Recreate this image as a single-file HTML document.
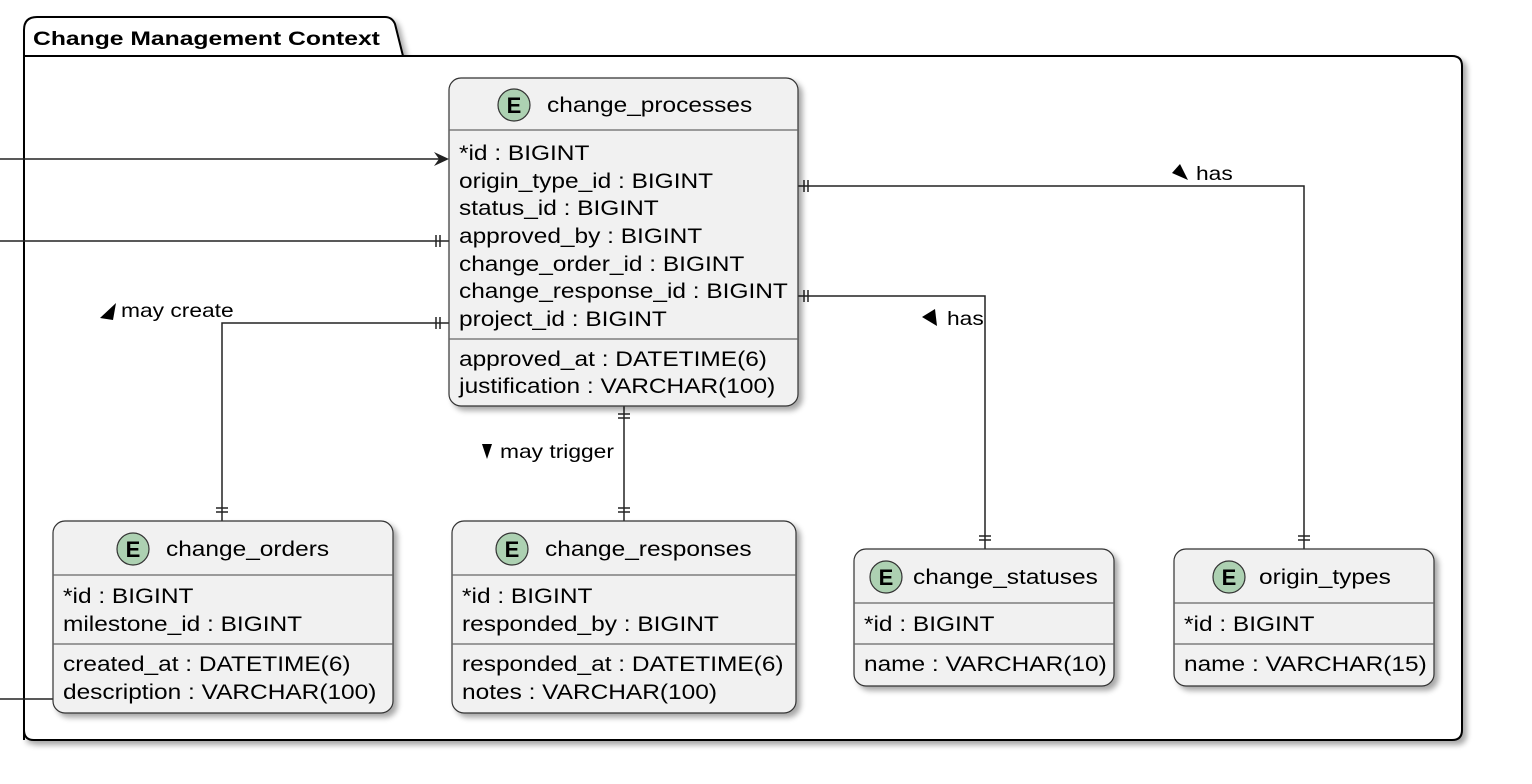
<!DOCTYPE html>
<html><head><meta charset="utf-8"><style>
html,body{margin:0;padding:0;background:#fff;}
svg{display:block;font-family:"Liberation Sans",sans-serif;}
text{transform-box:fill-box;transform-origin:left center;}
.t{font-size:21px;fill:#000;transform:scaleX(1.165);}
.l{font-size:19px;fill:#000;transform:scaleX(1.2);}
</style></head><body>
<svg width="1532" height="784" viewBox="0 0 1532 784" xmlns="http://www.w3.org/2000/svg">
<defs>
<filter id="sh" x="-10%" y="-10%" width="130%" height="130%"><feGaussianBlur in="SourceAlpha" stdDeviation="3"/><feOffset dx="4" dy="4"/><feComponentTransfer><feFuncA type="linear" slope="0.35"/></feComponentTransfer><feMerge><feMergeNode/><feMergeNode in="SourceGraphic"/></feMerge></filter>
</defs>
<g filter="url(#sh)">
<path d="M24,740 L24,30 Q24,17 37,17 L385,17 Q392,17 395,24 L403,56 L1452,56 Q1462,56 1462,66 L1462,730 Q1462,740 1452,740 L34,740 Q24,740 24,730 Z" fill="#fff" stroke="#000" stroke-width="2"/>
</g>
<line x1="24" y1="56" x2="403" y2="56" stroke="#000" stroke-width="2"/>
<text x="33" y="45" style="font-size:19px;font-weight:bold;transform:scaleX(1.3)">Change Management Context</text>

<g stroke="#222" stroke-width="1.5" fill="none">
<line x1="0" y1="159" x2="447" y2="159"/>
<line x1="0" y1="241" x2="449" y2="241"/>
<line x1="436" y1="235" x2="436" y2="247"/><line x1="440" y1="235" x2="440" y2="247"/>
<polyline points="449,323 222,323 222,521"/>
<line x1="436" y1="317" x2="436" y2="329"/><line x1="440" y1="317" x2="440" y2="329"/>
<line x1="216" y1="508" x2="228" y2="508"/><line x1="216" y1="512" x2="228" y2="512"/>
<line x1="624" y1="406" x2="624" y2="521"/>
<line x1="618" y1="414" x2="630" y2="414"/><line x1="618" y1="418" x2="630" y2="418"/>
<line x1="618" y1="508" x2="630" y2="508"/><line x1="618" y1="512" x2="630" y2="512"/>
<polyline points="798,296 985,296 985,549"/>
<line x1="804" y1="290" x2="804" y2="302"/><line x1="808" y1="290" x2="808" y2="302"/>
<line x1="979" y1="536" x2="991" y2="536"/><line x1="979" y1="540" x2="991" y2="540"/>
<polyline points="798,186 1304,186 1304,549"/>
<line x1="804" y1="180" x2="804" y2="192"/><line x1="808" y1="180" x2="808" y2="192"/>
<line x1="1298" y1="536" x2="1310" y2="536"/><line x1="1298" y1="540" x2="1310" y2="540"/>
<line x1="0" y1="699" x2="53" y2="699"/>
</g>
<polygon points="449,159 434,152 439,159 434,166" fill="#222"/>
<polygon points="100,318 116,303 113,320" fill="#000"/>
<text class="l" x="121" y="317">may create</text>
<polygon points="482,444 492,444 487,459" fill="#000"/>
<text class="l" x="500" y="458">may trigger</text>
<polygon points="922,317 935,309 937,326" fill="#000"/>
<text class="l" x="947" y="325">has</text>
<polygon points="1172,173 1180,164 1188,180" fill="#000"/>
<text class="l" x="1196" y="180">has</text>

<g filter="url(#sh)"><rect x="449" y="78" width="349" height="328" rx="12" fill="#f1f1f1" stroke="#333" stroke-width="1.2"/></g>
<line x1="449" y1="130" x2="798" y2="130" stroke="#666" stroke-width="1.2"/>
<line x1="449" y1="339" x2="798" y2="339" stroke="#666" stroke-width="1.2"/>
<circle cx="514" cy="105" r="16" fill="#add1b2" stroke="#333" stroke-width="1.2"/>
<text x="514" y="113" text-anchor="middle" style="font-size:22px;font-weight:bold">E</text>
<text class="t" x="547" y="112">change_processes</text>
<text class="t" x="459" y="160">*id : BIGINT</text>
<text class="t" x="459" y="188">origin_type_id : BIGINT</text>
<text class="t" x="459" y="215">status_id : BIGINT</text>
<text class="t" x="459" y="243">approved_by : BIGINT</text>
<text class="t" x="459" y="271">change_order_id : BIGINT</text>
<text class="t" x="459" y="298">change_response_id : BIGINT</text>
<text class="t" x="459" y="326">project_id : BIGINT</text>
<text class="t" x="459" y="366">approved_at : DATETIME(6)</text>
<text class="t" x="459" y="393">justification : VARCHAR(100)</text>

<g filter="url(#sh)"><rect x="53" y="521" width="340" height="192" rx="12" fill="#f1f1f1" stroke="#333" stroke-width="1.2"/></g>
<line x1="53" y1="575" x2="393" y2="575" stroke="#666" stroke-width="1.2"/>
<line x1="53" y1="644" x2="393" y2="644" stroke="#666" stroke-width="1.2"/>
<circle cx="133" cy="549" r="16" fill="#add1b2" stroke="#333" stroke-width="1.2"/>
<text x="133" y="557" text-anchor="middle" style="font-size:22px;font-weight:bold">E</text>
<text class="t" x="166" y="556">change_orders</text>
<text class="t" x="63" y="603">*id : BIGINT</text>
<text class="t" x="63" y="631">milestone_id : BIGINT</text>
<text class="t" x="63" y="671">created_at : DATETIME(6)</text>
<text class="t" x="63" y="699">description : VARCHAR(100)</text>

<g filter="url(#sh)"><rect x="452" y="521" width="344" height="192" rx="12" fill="#f1f1f1" stroke="#333" stroke-width="1.2"/></g>
<line x1="452" y1="575" x2="796" y2="575" stroke="#666" stroke-width="1.2"/>
<line x1="452" y1="644" x2="796" y2="644" stroke="#666" stroke-width="1.2"/>
<circle cx="512" cy="549" r="16" fill="#add1b2" stroke="#333" stroke-width="1.2"/>
<text x="512" y="557" text-anchor="middle" style="font-size:22px;font-weight:bold">E</text>
<text class="t" x="545" y="556">change_responses</text>
<text class="t" x="462" y="603">*id : BIGINT</text>
<text class="t" x="462" y="631">responded_by : BIGINT</text>
<text class="t" x="462" y="671">responded_at : DATETIME(6)</text>
<text class="t" x="462" y="699">notes : VARCHAR(100)</text>

<g filter="url(#sh)"><rect x="854" y="549" width="260" height="137" rx="12" fill="#f1f1f1" stroke="#333" stroke-width="1.2"/></g>
<line x1="854" y1="603" x2="1114" y2="603" stroke="#666" stroke-width="1.2"/>
<line x1="854" y1="644" x2="1114" y2="644" stroke="#666" stroke-width="1.2"/>
<circle cx="886" cy="577" r="16" fill="#add1b2" stroke="#333" stroke-width="1.2"/>
<text x="886" y="585" text-anchor="middle" style="font-size:22px;font-weight:bold">E</text>
<text class="t" x="913" y="584">change_statuses</text>
<text class="t" x="864" y="631">*id : BIGINT</text>
<text class="t" x="864" y="671">name : VARCHAR(10)</text>

<g filter="url(#sh)"><rect x="1174" y="549" width="260" height="137" rx="12" fill="#f1f1f1" stroke="#333" stroke-width="1.2"/></g>
<line x1="1174" y1="603" x2="1434" y2="603" stroke="#666" stroke-width="1.2"/>
<line x1="1174" y1="644" x2="1434" y2="644" stroke="#666" stroke-width="1.2"/>
<circle cx="1229" cy="577" r="16" fill="#add1b2" stroke="#333" stroke-width="1.2"/>
<text x="1229" y="585" text-anchor="middle" style="font-size:22px;font-weight:bold">E</text>
<text class="t" x="1259" y="584">origin_types</text>
<text class="t" x="1184" y="631">*id : BIGINT</text>
<text class="t" x="1184" y="671">name : VARCHAR(15)</text>
</svg>
</body></html>
